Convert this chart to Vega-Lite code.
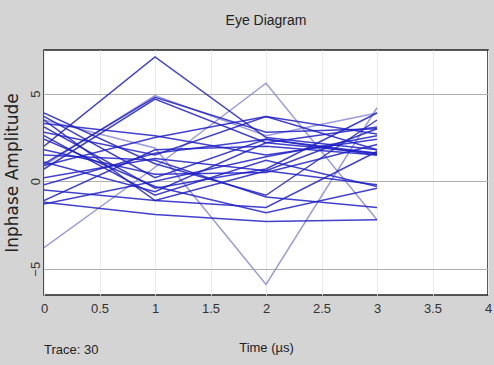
{
  "$schema": "https://vega.github.io/schema/vega-lite/v6.json",
  "width": 444,
  "height": 245,
  "autosize": {"type": "none"},
  "padding": {"left": 44, "top": 50, "right": 6, "bottom": 70},
  "background": "#d4d4d4",
  "view": {"fill": "white", "stroke": "#222", "strokeWidth": 1.5},
  "title": {
    "text": "Eye Diagram",
    "font": "Liberation Sans, sans-serif",
    "fontSize": 14,
    "fontWeight": "normal",
    "color": "#222",
    "anchor": "middle",
    "offset": 22
  },
  "data": {
    "values": [
      {"trace": 4, "kind": "light", "t": 0, "v": -3.8},
      {"trace": 4, "kind": "light", "t": 1, "v": 0.8},
      {"trace": 4, "kind": "light", "t": 2, "v": 5.6},
      {"trace": 4, "kind": "light", "t": 3, "v": -2.2},
      {"trace": 5, "kind": "light", "t": 0, "v": 3.5},
      {"trace": 5, "kind": "light", "t": 1, "v": 1.9},
      {"trace": 5, "kind": "light", "t": 2, "v": -5.9},
      {"trace": 5, "kind": "light", "t": 3, "v": 4.2},
      {"trace": 24, "kind": "light", "t": 0, "v": 0.9},
      {"trace": 24, "kind": "light", "t": 1, "v": 4.9},
      {"trace": 24, "kind": "light", "t": 2, "v": 2.6},
      {"trace": 24, "kind": "light", "t": 3, "v": 3.9},
      {"trace": 1, "kind": "dark", "t": 0, "v": 2.0},
      {"trace": 1, "kind": "dark", "t": 1, "v": 7.1},
      {"trace": 1, "kind": "dark", "t": 2, "v": 2.5},
      {"trace": 1, "kind": "dark", "t": 3, "v": 1.8},
      {"trace": 2, "kind": "dark", "t": 0, "v": 1.0},
      {"trace": 2, "kind": "dark", "t": 1, "v": 4.8},
      {"trace": 2, "kind": "dark", "t": 2, "v": 2.8},
      {"trace": 2, "kind": "dark", "t": 3, "v": 3.0},
      {"trace": 3, "kind": "dark", "t": 0, "v": 0.7},
      {"trace": 3, "kind": "dark", "t": 1, "v": 4.7},
      {"trace": 3, "kind": "dark", "t": 2, "v": 2.2},
      {"trace": 3, "kind": "dark", "t": 3, "v": 1.6},
      {"trace": 6, "kind": "dark", "t": 0, "v": -1.2},
      {"trace": 6, "kind": "dark", "t": 1, "v": -1.9},
      {"trace": 6, "kind": "dark", "t": 2, "v": -2.3},
      {"trace": 6, "kind": "dark", "t": 3, "v": -2.2},
      {"trace": 7, "kind": "dark", "t": 0, "v": 3.9},
      {"trace": 7, "kind": "dark", "t": 1, "v": 1.0},
      {"trace": 7, "kind": "dark", "t": 2, "v": -0.8},
      {"trace": 7, "kind": "dark", "t": 3, "v": 3.5},
      {"trace": 8, "kind": "dark", "t": 0, "v": 3.7},
      {"trace": 8, "kind": "dark", "t": 1, "v": 0.2},
      {"trace": 8, "kind": "dark", "t": 2, "v": 2.4},
      {"trace": 8, "kind": "dark", "t": 3, "v": 1.5},
      {"trace": 9, "kind": "dark", "t": 0, "v": 3.3},
      {"trace": 9, "kind": "dark", "t": 1, "v": 2.6},
      {"trace": 9, "kind": "dark", "t": 2, "v": 1.5},
      {"trace": 9, "kind": "dark", "t": 3, "v": 2.4},
      {"trace": 10, "kind": "dark", "t": 0, "v": 3.1},
      {"trace": 10, "kind": "dark", "t": 1, "v": -0.4},
      {"trace": 10, "kind": "dark", "t": 2, "v": 0.7},
      {"trace": 10, "kind": "dark", "t": 3, "v": 3.9},
      {"trace": 11, "kind": "dark", "t": 0, "v": 2.8},
      {"trace": 11, "kind": "dark", "t": 1, "v": 1.5},
      {"trace": 11, "kind": "dark", "t": 2, "v": 3.7},
      {"trace": 11, "kind": "dark", "t": 3, "v": 1.8},
      {"trace": 12, "kind": "dark", "t": 0, "v": 2.4},
      {"trace": 12, "kind": "dark", "t": 1, "v": -0.3},
      {"trace": 12, "kind": "dark", "t": 2, "v": -1.8},
      {"trace": 12, "kind": "dark", "t": 3, "v": -0.4},
      {"trace": 13, "kind": "dark", "t": 0, "v": 1.8},
      {"trace": 13, "kind": "dark", "t": 1, "v": 0.4},
      {"trace": 13, "kind": "dark", "t": 2, "v": 0.5},
      {"trace": 13, "kind": "dark", "t": 3, "v": 2.1},
      {"trace": 14, "kind": "dark", "t": 0, "v": 1.5},
      {"trace": 14, "kind": "dark", "t": 1, "v": 1.2},
      {"trace": 14, "kind": "dark", "t": 2, "v": -0.9},
      {"trace": 14, "kind": "dark", "t": 3, "v": -1.5},
      {"trace": 15, "kind": "dark", "t": 0, "v": 1.1},
      {"trace": 15, "kind": "dark", "t": 1, "v": -0.6},
      {"trace": 15, "kind": "dark", "t": 2, "v": 2.2},
      {"trace": 15, "kind": "dark", "t": 3, "v": 3.1},
      {"trace": 16, "kind": "dark", "t": 0, "v": 0.9},
      {"trace": 16, "kind": "dark", "t": 1, "v": 2.5},
      {"trace": 16, "kind": "dark", "t": 2, "v": 3.7},
      {"trace": 16, "kind": "dark", "t": 3, "v": 2.7},
      {"trace": 17, "kind": "dark", "t": 0, "v": 0.2},
      {"trace": 17, "kind": "dark", "t": 1, "v": 1.3},
      {"trace": 17, "kind": "dark", "t": 2, "v": 0.6},
      {"trace": 17, "kind": "dark", "t": 3, "v": -0.2},
      {"trace": 18, "kind": "dark", "t": 0, "v": -0.2},
      {"trace": 18, "kind": "dark", "t": 1, "v": 1.6},
      {"trace": 18, "kind": "dark", "t": 2, "v": 2.4},
      {"trace": 18, "kind": "dark", "t": 3, "v": 1.6},
      {"trace": 19, "kind": "dark", "t": 0, "v": -0.5},
      {"trace": 19, "kind": "dark", "t": 1, "v": -1.1},
      {"trace": 19, "kind": "dark", "t": 2, "v": 0.6},
      {"trace": 19, "kind": "dark", "t": 3, "v": 3.0},
      {"trace": 20, "kind": "dark", "t": 0, "v": -1.1},
      {"trace": 20, "kind": "dark", "t": 1, "v": 1.8},
      {"trace": 20, "kind": "dark", "t": 2, "v": 2.0},
      {"trace": 20, "kind": "dark", "t": 3, "v": 1.5},
      {"trace": 21, "kind": "dark", "t": 0, "v": -1.3},
      {"trace": 21, "kind": "dark", "t": 1, "v": 0.0},
      {"trace": 21, "kind": "dark", "t": 2, "v": 1.4},
      {"trace": 21, "kind": "dark", "t": 3, "v": 2.6},
      {"trace": 22, "kind": "dark", "t": 0, "v": 2.6},
      {"trace": 22, "kind": "dark", "t": 1, "v": -0.8},
      {"trace": 22, "kind": "dark", "t": 2, "v": 1.2},
      {"trace": 22, "kind": "dark", "t": 3, "v": -0.3},
      {"trace": 23, "kind": "dark", "t": 0, "v": 3.5},
      {"trace": 23, "kind": "dark", "t": 1, "v": -1.1},
      {"trace": 23, "kind": "dark", "t": 2, "v": -1.5},
      {"trace": 23, "kind": "dark", "t": 3, "v": 1.7}
    ]
  },
  "layer": [
    {
      "mark": {"type": "line", "strokeWidth": 1.5, "opacity": 0.85, "clip": true},
      "encoding": {
        "x": {
          "field": "t",
          "type": "quantitative",
          "scale": {"domain": [0, 4], "nice": false, "zero": false},
          "axis": {
            "values": [0, 0.5, 1, 1.5, 2, 2.5, 3, 3.5, 4],
            "format": "~g",
            "title": "Time (µs)",
            "titleFont": "Liberation Sans, sans-serif",
            "titleFontSize": 13,
            "titleFontWeight": "normal",
            "titleColor": "#222",
            "titlePadding": 26,
            "labelFont": "Liberation Sans, sans-serif",
            "labelFontSize": 13,
            "labelColor": "#333",
            "labelPadding": 7,
            "labelFlush": false,
            "ticks": false,
            "domain": false,
            "grid": true,
            "gridColor": "#ececec",
            "gridWidth": 1
          }
        },
        "y": {
          "field": "v",
          "type": "quantitative",
          "scale": {"domain": [-6.5, 7.5], "nice": false, "zero": false},
          "axis": {
            "values": [-5, 0, 5],
            "title": "Inphase Amplitude",
            "titleFont": "DejaVu Sans, sans-serif",
            "titleFontSize": 17,
            "titleFontWeight": "normal",
            "titleColor": "#222",
            "titlePadding": 8,
            "labelFont": "Liberation Sans, sans-serif",
            "labelFontSize": 13,
            "labelColor": "#333",
            "labelAngle": 270,
            "labelAlign": "center",
            "labelBaseline": "bottom",
            "labelPadding": 2,
            "ticks": false,
            "domain": false,
            "grid": true,
            "gridColor": "#b0b0b0",
            "gridWidth": 1
          }
        },
        "detail": {"field": "trace"},
        "color": {
          "field": "kind",
          "type": "nominal",
          "scale": {"domain": ["dark", "light"], "range": ["#2020c4", "#8a8ad8"]},
          "legend": null
        }
      }
    },
    {
      "data": {"values": [{"label": "Trace: 30", "t": 0, "v": -6.5}]},
      "mark": {
        "type": "text",
        "align": "left",
        "baseline": "middle",
        "dy": 55,
        "font": "Liberation Sans, sans-serif",
        "fontSize": 13,
        "color": "#222"
      },
      "encoding": {
        "x": {"field": "t", "type": "quantitative"},
        "y": {"field": "v", "type": "quantitative"},
        "text": {"field": "label"}
      }
    }
  ]
}
